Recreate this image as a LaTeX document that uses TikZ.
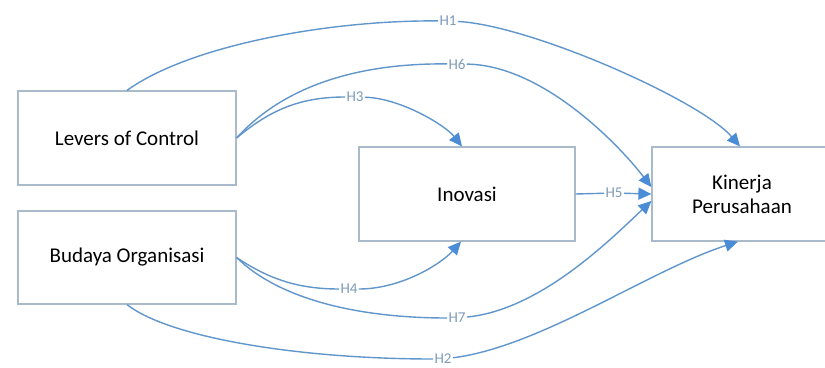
\documentclass[tikz,border=0pt]{standalone}
\usepackage{fontspec}
\setmainfont{Carlito}
\usetikzlibrary{arrows.meta}
\definecolor{boxline}{HTML}{A9BACB}
\definecolor{conn}{HTML}{6096CB}
\definecolor{tipc}{HTML}{4A8DD6}
\definecolor{labc}{HTML}{7E9BB9}
\tikzset{
  box/.style={draw=boxline, line width=1.2pt, fill=white, minimum height=94pt,
    font=\fontsize{21}{24}\selectfont, text=black, align=center},
  hlab/.style={fill=white, inner sep=1.2pt, font=\fontsize{15}{15}\selectfont, text=labc},
  link/.style={draw=conn, line width=1.4pt,
    -{Triangle[length=13pt,width=12pt,fill=tipc,color=tipc]}}
}
\begin{document}
\begin{tikzpicture}[x=1pt,y=-1pt]
\useasboundingbox (0,0) rectangle (825,367);
% boxes
\node[box, minimum width=218pt] (loc) at (127,138) {Levers of Control};
\node[box, minimum width=218pt, minimum height=93pt] (bud) at (127,257.5) {Budaya Organisasi};
\node[box, minimum width=216pt] (inov) at (467,194) {Inovasi};
\node[box, minimum width=180pt, text width=170pt] (kin) at (742,194) {Kinerja\\Perusahaan};
% labels
\node[hlab] (h1) at (448,21) {H1};
\node[hlab] (h6) at (457,64) {H6};
\node[hlab] (h3) at (355,97) {H3};
\node[hlab] (h5) at (614,193) {H5};
\node[hlab] (h4) at (349,289) {H4};
\node[hlab] (h7) at (457,318) {H7};
\node[hlab] (h2) at (443,359) {H2};
% end points
\coordinate (k6) at ([yshift=7pt]kin.west);
\coordinate (k7) at ([yshift=-7pt]kin.west);
% connectors
\draw[link] (loc.north) .. controls (190,45) and (330,20) .. (h1)
  .. controls (530,25) and (700,100) .. ([xshift=-2pt]kin.north);
\draw[link] (loc.east) .. controls (280,90) and (350,63) .. (h6)
  .. controls (540,65) and (615,140) .. (k6);
\draw[link] (loc.east) .. controls (270,110) and (300,97) .. (h3)
  .. controls (400,98) and (445,125) .. ([xshift=-5pt]inov.north);
\draw[link] (inov.east) -- (h5) -- (kin.west);
\draw[link] (bud.east) .. controls (270,280) and (300,289) .. (h4)
  .. controls (400,289) and (440,265) .. ([xshift=-6pt]inov.south);
\draw[link] (bud.east) .. controls (280,300) and (360,318) .. (h7)
  .. controls (540,310) and (610,240) .. (k7);
\draw[link] (bud.south) .. controls (170,338) and (300,359) .. (h2)
  .. controls (540,347) and (650,270) .. ([xshift=-4pt]kin.south);
\end{tikzpicture}
\end{document}
